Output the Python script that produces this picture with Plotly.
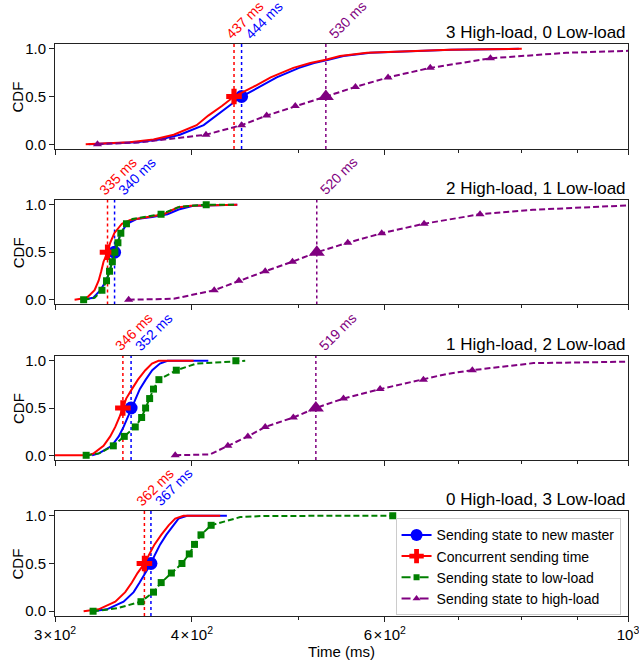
import math
import plotly.graph_objects as go

# ---------------- data ----------------
titles = ["3 High-load, 0 Low-load", "2 High-load, 1 Low-load",
          "1 High-load, 2 Low-load", "0 High-load, 3 Low-load"]

series_names = ["Sending state to new master", "Concurrent sending time",
                "Sending state to low-load", "Sending state to high-load"]

# medians (ms) per panel
blue_median = [444, 340, 352, 367]
red_median = [437, 335, 346, 362]
purple_median = [530, 520, 519, None]

# Sending state to new master (blue)
blue_x = [
    [322, 356, 374, 390, 410, 421, 433, 444, 461, 478, 501, 517, 533, 550, 582, 690, 795],
    [317.5, 325, 330, 334, 336.5, 338, 340, 342, 344.5, 349, 356, 368, 380, 389, 401, 440],
    [324.3, 329, 338, 343, 346.5, 349.5, 352, 355, 358.5, 363, 368, 374, 380, 414],
    [324.3, 334.6, 346.5, 353.9, 358.4, 362.7, 367, 370.4, 374.2, 379, 384.4, 388.9, 395.9, 430.5],
]
blue_y = [
    [0, 0.02, 0.05, 0.1, 0.2, 0.3, 0.4, 0.5, 0.6, 0.7, 0.8, 0.85, 0.886, 0.924, 0.958, 0.99, 1.0],
    [0, 0.02, 0.1, 0.2, 0.3, 0.4, 0.5, 0.6, 0.7, 0.8, 0.85, 0.87, 0.9, 0.95, 0.99, 1.0],
    [0, 0.02, 0.1, 0.2, 0.3, 0.4, 0.5, 0.6, 0.7, 0.8, 0.9, 0.97, 1.0, 1.0],
    [0, 0.02, 0.1, 0.2, 0.3, 0.4, 0.5, 0.6, 0.7, 0.8, 0.9, 0.97, 1.0, 1.0],
]

# Concurrent sending time (red)
red_x = [
    [320, 351, 369, 385, 404, 414, 426, 437, 455, 472, 495, 513, 530, 546, 578, 688, 800],
    [312.6, 320.8, 326, 328.8, 330.6, 332.2, 335, 336.9, 339.8, 345.3, 351.4, 364, 377, 388, 399, 440],
    [290, 322, 325.4, 332.2, 336.9, 340.5, 343.4, 346, 348.4, 352.6, 357.1, 362.7, 367.8, 372.9, 401.4],
    [318.6, 328.8, 340.5, 347.7, 352.6, 356.8, 362, 366, 369.8, 375, 380.9, 386.2, 393, 424.5],
]
red_y = [
    [0, 0.02, 0.05, 0.1, 0.2, 0.3, 0.4, 0.5, 0.6, 0.7, 0.8, 0.85, 0.886, 0.924, 0.958, 0.99, 1.0],
    [0, 0.02, 0.1, 0.2, 0.3, 0.4, 0.5, 0.6, 0.7, 0.8, 0.84, 0.87, 0.9, 0.97, 0.99, 1.0],
    [0, 0, 0.02, 0.1, 0.2, 0.3, 0.4, 0.5, 0.6, 0.7, 0.8, 0.9, 0.97, 1.0, 1.0],
    [0, 0.02, 0.1, 0.2, 0.3, 0.4, 0.5, 0.6, 0.7, 0.8, 0.9, 0.97, 1.0, 1.0],
]

# Sending state to low-load (green)
green_x = [
    [],
    [318.6, 326, 331.1, 334.3, 336.4, 338.4, 340.2, 342.4, 344.5, 348.6, 353, 362, 374.9, 390, 412.2, 438],
    [320.3, 329, 339.1, 347, 355.1, 359.9, 362.9, 366, 369, 373.2, 387.1, 404, 438.7, 447.4],
    [325, 341.7, 359.4, 369, 375, 383.1, 391.7, 397.8, 402.2, 407.7, 416.5, 442.7, 465, 610],
]
green_y = [
    [],
    [0, 0.02, 0.1, 0.2, 0.3, 0.4, 0.5, 0.6, 0.7, 0.8, 0.85, 0.87, 0.9, 0.98, 1.0, 1.0],
    [0, 0.02, 0.1, 0.2, 0.3, 0.4, 0.5, 0.6, 0.7, 0.8, 0.9, 0.97, 1.0, 1.0],
    [0, 0.03, 0.1, 0.2, 0.3, 0.4, 0.5, 0.6, 0.7, 0.8, 0.9, 0.986, 0.998, 1.0],
]
green_mx = [
    [],
    [318.6, 331.1, 334.3, 336.4, 338.4, 340.2, 342.4, 344.5, 348.6, 374.9, 412.2],
    [320.3, 339.1, 347, 355.1, 359.9, 362.9, 366, 369, 373.2, 387.1, 438.7],
    [325, 359.4, 369, 375, 383.1, 391.7, 397.8, 402.2, 407.7, 416.5, 610],
]
marker_levels = [0, 0.1, 0.2, 0.3, 0.4, 0.5, 0.6, 0.7, 0.8, 0.9, 1.0]

# Sending state to high-load (purple)
purple_x = [
    [328, 359, 412, 444, 468, 497, 530, 564, 604, 660, 749, 879, 1000, 1150],
    [350.2, 385, 419.2, 441.5, 466.6, 494.1, 520, 555, 596, 651.5, 732.8, 819, 1000, 1100],
    [386.2, 415.6, 431.4, 449.9, 466.6, 495, 519, 550, 594, 650.6, 683, 721, 820, 1000, 1100],
    [],
]
purple_y = [
    [0, 0.02, 0.1, 0.2, 0.3, 0.4, 0.5, 0.6, 0.7, 0.8, 0.9, 0.958, 0.986, 1.0],
    [0, 0.01, 0.1, 0.2, 0.3, 0.4, 0.5, 0.6, 0.7, 0.8, 0.9, 0.947, 0.993, 1.0],
    [0, 0.01, 0.1, 0.2, 0.3, 0.4, 0.5, 0.6, 0.7, 0.8, 0.86, 0.9, 0.975, 0.99, 1.0],
    [],
]
purple_mx = [
    [328, 412, 444, 468, 497, 530, 564, 604, 660, 749, 1150],
    [350.2, 419.2, 441.5, 466.6, 494.1, 520, 555, 596, 651.5, 732.8, 1100],
    [386.2, 431.4, 449.9, 466.6, 495, 519, 550, 594, 650.6, 721, 1100],
    [],
]

x_tickvals = [300, 400, 600, 1000]
x_ticktext = ["3\u200a\u00d7\u200a10<sup>2</sup>", "4\u200a\u00d7\u200a10<sup>2</sup>",
              "6\u200a\u00d7\u200a10<sup>2</sup>", "10<sup>3</sup>"]
x_minor = [500, 700, 800, 900]

# ---------------- style ----------------
BLUE, RED, GREEN, PURPLE = "#0000ff", "#ff0000", "#008000", "#800080"
FONT = "Liberation Sans, Arial, sans-serif"
DASH = "6px,3px"

domains = [[0.8164, 1.0], [0.5446, 0.7273], [0.2727, 0.4545], [0.0, 0.1836]]

fig = go.Figure()

for i in range(4):
    xa = "x" if i == 0 else f"x{i+1}"
    ya = "y" if i == 0 else f"y{i+1}"
    common = dict(xaxis=xa, yaxis=ya, showlegend=False, hoverinfo="skip")

    # median vertical dotted lines
    for med, col in ((red_median[i], RED), (blue_median[i], BLUE), (purple_median[i], PURPLE)):
        if med is None:
            continue
        fig.add_trace(go.Scatter(x=[med, med], y=[-0.05, 1.05], mode="lines",
                                 line=dict(color=col, width=1.5, dash="dot"), **common))

    # blue
    fig.add_trace(go.Scatter(x=blue_x[i], y=blue_y[i], mode="lines",
                             line=dict(color=BLUE, width=2), **common))
    fig.add_trace(go.Scatter(x=[blue_median[i]], y=[0.5], mode="markers",
                             marker=dict(color=BLUE, size=13, symbol="circle"), **common))
    # red
    fig.add_trace(go.Scatter(x=red_x[i], y=red_y[i], mode="lines",
                             line=dict(color=RED, width=2), **common))
    fig.add_trace(go.Scatter(x=[red_median[i]], y=[0.5], mode="markers",
                             marker=dict(color=RED, size=13, symbol="cross"), **common))
    # green
    if green_x[i]:
        fig.add_trace(go.Scatter(x=green_x[i], y=green_y[i], mode="lines",
                                 line=dict(color=GREEN, width=2, dash=DASH), **common))
        fig.add_trace(go.Scatter(x=green_mx[i], y=marker_levels, mode="markers",
                                 marker=dict(color=GREEN, size=7, symbol="square"), **common))
    # purple
    if purple_x[i]:
        fig.add_trace(go.Scatter(x=purple_x[i], y=purple_y[i], mode="lines",
                                 line=dict(color=PURPLE, width=2, dash=DASH), **common))
        fig.add_trace(go.Scatter(x=purple_mx[i], y=marker_levels, mode="markers",
                                 marker=dict(color=PURPLE, size=8, symbol="triangle-up"), **common))
        fig.add_trace(go.Scatter(x=[purple_median[i]], y=[0.5], mode="markers",
                                 marker=dict(color=PURPLE, size=14, symbol="triangle-up"), **common))

# legend entries (drawn in bottom panel)
legend_specs = [
    (series_names[0], BLUE, "solid", "circle", 12),
    (series_names[1], RED, "solid", "cross", 12),
    (series_names[2], GREEN, "dash", "square", 6),
    (series_names[3], PURPLE, "dash", "triangle-up", 7),
]
for name, col, dash, sym, ms in legend_specs:
    fig.add_trace(go.Scatter(x=[None], y=[None], mode="lines+markers", name=name,
                             xaxis="x4", yaxis="y4",
                             line=dict(color=col, width=2, dash=dash),
                             marker=dict(color=col, size=ms, symbol=sym)))

layout = dict(
    width=639, height=660,
    template="none",
    margin=dict(l=55, r=11, t=44, b=44, autoexpand=False),
    paper_bgcolor="white", plot_bgcolor="white",
    font=dict(family=FONT, size=15, color="black"),
    legend=dict(x=0.987, y=0.1708, xanchor="right", yanchor="top",
                bgcolor="rgba(255,255,255,0.85)", bordercolor="#cccccc", borderwidth=1,
                font=dict(size=14, family=FONT), tracegroupgap=0),
)

annotations = []
for i in range(4):
    xk = "xaxis" if i == 0 else f"xaxis{i+1}"
    yk = "yaxis" if i == 0 else f"yaxis{i+1}"
    xa = "x" if i == 0 else f"x{i+1}"
    ya = "y" if i == 0 else f"y{i+1}"
    layout[xk] = dict(
        domain=[0, 1], anchor=ya, type="log", automargin=False,
        range=[math.log10(300), 3],
        tickvals=x_tickvals, ticktext=x_ticktext,
        showticklabels=(i == 3), ticklabeloverflow="allow",
        ticks="outside", ticklen=5, tickwidth=1, tickcolor="#222",
        minor=dict(tickvals=x_minor, ticks="outside", ticklen=3, tickwidth=1, tickcolor="#222"),
        showline=True, mirror=True, linecolor="#222", linewidth=1,
        showgrid=False, zeroline=False,
        tickfont=dict(size=15),
    )
    if i > 0:
        layout[xk]["matches"] = "x"
    if i == 3:
        layout[xk]["title"] = dict(text="Time (ms)", font=dict(size=15), standoff=1)
    layout[yk] = dict(
        domain=domains[i], anchor=xa, automargin=False,
        range=[-0.05, 1.05],
        tickvals=[0, 0.5, 1.0], ticktext=["0.0", "0.5", "1.0"],
        ticks="outside", ticklen=5, tickwidth=1, tickcolor="#222",
        showline=True, mirror=True, linecolor="#222", linewidth=1,
        showgrid=False, zeroline=False,
        tickfont=dict(size=15),
    )
    # y-axis label
    annotations.append(dict(text="CDF", xref="paper", yref=f"{ya} domain",
                            x=-0.0646, y=0.5, xanchor="center", yanchor="middle",
                            textangle=-90, showarrow=False, font=dict(size=15)))
    # panel title
    annotations.append(dict(text=titles[i], xref=f"{xa} domain", yref=f"{ya} domain",
                            x=1, y=1, xanchor="right", yanchor="bottom", showarrow=False,
                            font=dict(size=17), yshift=0))
    # median labels
    for med, col, shift in ((red_median[i], RED, -14), (blue_median[i], BLUE, -2),
                            (purple_median[i], PURPLE, -3)):
        if med is None:
            continue
        annotations.append(dict(text=f"{med} ms", xref=xa, yref=ya,
                                x=math.log10(med), y=1.05, xanchor="left", yanchor="bottom",
                                textangle=-45, showarrow=False, xshift=shift, yshift=-1,
                                font=dict(size=14, color=col)))

layout["annotations"] = annotations
fig.update_layout(**layout)

fig.write_html("out.html")
